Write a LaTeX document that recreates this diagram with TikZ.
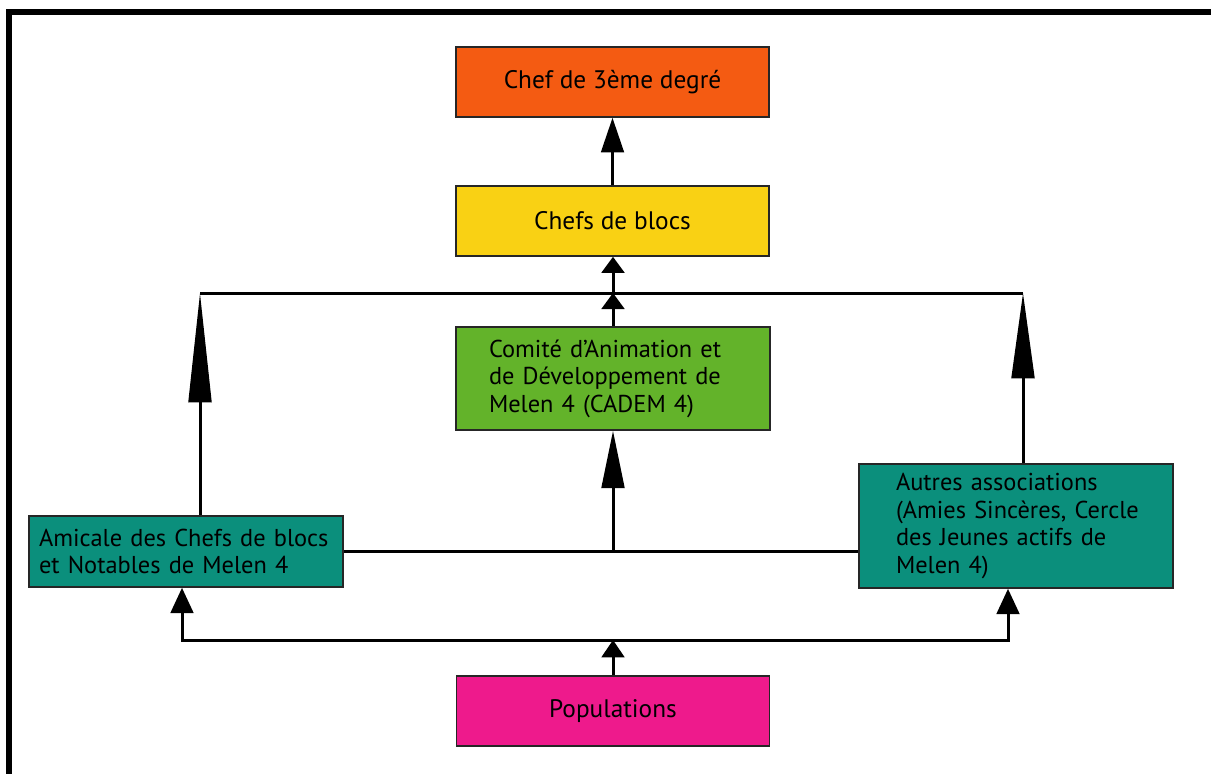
\documentclass[tikz,border=0pt]{standalone}
\usepackage{fontspec}
\setmainfont{PT Sans}
\usetikzlibrary{arrows.meta}
\definecolor{corange}{RGB}{244,91,18}
\definecolor{cyellow}{RGB}{249,209,20}
\definecolor{cgreen}{RGB}{99,179,42}
\definecolor{cteal}{RGB}{11,143,124}
\definecolor{cpink}{RGB}{238,26,140}
\begin{document}
\begin{tikzpicture}[x=0.75pt,y=-0.75pt,
  box/.style={draw=black!85, line width=1.2pt, rectangle, inner sep=0pt,
    minimum width=235pt, minimum height=52.5pt, text=black,
    font=\fontsize{19pt}{22pt}\selectfont},
  tbox/.style={draw=black!85, line width=1.2pt, rectangle, align=left, text=black,
    inner ysep=0pt, font=\fontsize{18.3pt}{20.6pt}\selectfont},
  con/.style={line width=2.25pt, draw=black, line join=miter},
  tipA/.style={-{Triangle[length=26pt,width=17pt]}},
  tipS/.style={-{Triangle[length=12pt,width=17pt]}},
  tipB/.style={-{Triangle[length=43pt,width=17pt]}},
  tipL/.style={-{Triangle[length=82pt,width=17pt]}},
  tipR/.style={-{Triangle[length=64pt,width=17pt]}},
  tipM/.style={-{Triangle[length=19pt,width=17pt]}},
  tipP/.style={-{Triangle[length=13pt,width=17pt]}}
]
\useasboundingbox (0,0) rectangle (1211,774);
\fill[white] (0,0) rectangle (1211,774);
\draw[line width=4.5pt] (9,780) -- (9,12) -- (1220,12);

\node[box, fill=corange] (chef3) at (612.5,82) {Chef de 3ème degré};
\node[box, fill=cyellow] (blocs) at (612.5,221) {Chefs de blocs};
\node[tbox, fill=cgreen, inner xsep=24.75pt, text width=186pt, minimum height=77.25pt] (cadem) at (613,378.5)
  {\mbox{Comité d’Animation et}\\\mbox{de Développement de}\\\mbox{Melen 4 (CADEM 4)}};
\node[tbox, fill=cteal, inner xsep=7.5pt, text width=220.5pt, minimum height=53.25pt] (amicale) at (186,551.5)
  {\mbox{Amicale des Chefs de blocs}\\\mbox{et Notables de Melen 4}};
\node[tbox, fill=cteal, inner xsep=27.75pt, text width=180pt, minimum height=93pt] (autres) at (1016,526)
  {\mbox{Autres associations}\\\mbox{(Amies Sincères, Cercle}\\\mbox{des Jeunes actifs de}\\\mbox{Melen 4)}};
\node[box, fill=cpink] (pop) at (613,711) {Populations};

\coordinate (L) at (200,293);
\coordinate (R) at (1023,293);
\coordinate (T) at (613,293);
\coordinate (B) at (613,640);
\coordinate (BL) at (182,640);
\coordinate (BR) at (1008,640);

\draw[con, tipA] (blocs) -- (chef3);
\draw[con] (L) -- (R);
\draw[con, tipS] (cadem.north) -- (T);
\draw[con, tipS] (T) -- (T |- blocs.south);
\draw[con, tipL] (L |- amicale.north) -- (L);
\draw[con, tipR] (R |- autres.north) -- (R);
\draw[con] (amicale.east) -- (amicale.east -| autres.west);
\draw[con, tipB] (cadem.south |- amicale.east) -- (cadem.south);
\draw[con, tipP] (pop.north) -- (B);
\draw[con, tipM] (B) -| (BL |- amicale.south);
\draw[con, tipM] (B) -| (BR |- autres.south);
\end{tikzpicture}
\end{document}
